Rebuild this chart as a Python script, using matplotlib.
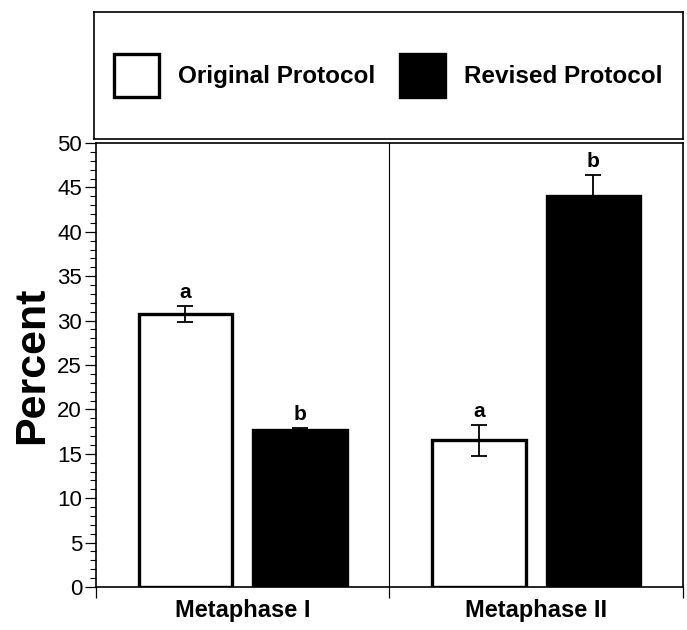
import numpy as np
import matplotlib
matplotlib.use("Agg")
import matplotlib.pyplot as plt
from matplotlib.ticker import MultipleLocator, FixedLocator

plt.rcParams['font.family'] = ['Liberation Sans', 'DejaVu Sans']

groups = ['Metaphase I', 'Metaphase II']
series = ['Original Protocol', 'Revised Protocol']
original = [30.7, 16.5]
original_err = [0.9, 1.7]
revised = [17.7, 44.0]
revised_err = [0.2, 2.4]
original_letters = ['a', 'a']
revised_letters = ['b', 'b']

fig = plt.figure(figsize=(6.87, 6.30), dpi=100)
ax = fig.add_axes([0.1397, 0.0683, 0.8545, 0.7047])

centers = np.arange(len(groups)) + 0.5
off = 0.195
w = 0.32
eb = dict(ecolor='black', elinewidth=1.3, capsize=6, capthick=1.3)

b1 = ax.bar(centers - off, original, w, yerr=original_err, color='white',
            edgecolor='black', linewidth=2.4, label=series[0], error_kw=eb, zorder=2)
b2 = ax.bar(centers + off, revised, w, yerr=revised_err, color='black',
            edgecolor='black', linewidth=2.4, label=series[1], error_kw=eb, zorder=2)

for x, v, e, t in zip(centers - off, original, original_err, original_letters):
    ax.annotate(t, (x, v + e), xytext=(0, 3), textcoords='offset points',
                ha='center', va='bottom', fontsize=15, fontweight='bold')
for x, v, e, t in zip(centers + off, revised, revised_err, revised_letters):
    ax.annotate(t, (x, v + e), xytext=(0, 3), textcoords='offset points',
                ha='center', va='bottom', fontsize=15, fontweight='bold')

# group divider
ax.axvline(1, color='black', linewidth=0.8, zorder=1)

ax.set_xlim(0, 2)
ax.set_ylim(0, 50)
ax.yaxis.set_major_locator(MultipleLocator(5))
ax.yaxis.set_minor_locator(MultipleLocator(1))
ax.tick_params(axis='y', which='major', direction='out', length=8, width=0.9,
               labelsize=16, pad=2)
ax.tick_params(axis='y', which='minor', direction='out', length=4.5, width=0.8)

ax.xaxis.set_major_locator(FixedLocator([0, 1, 2]))
ax.set_xticklabels(['', '', ''])
ax.xaxis.set_minor_locator(FixedLocator(centers))
ax.set_xticklabels(groups, minor=True)
ax.tick_params(axis='x', which='major', direction='out', length=8, width=0.9)
ax.tick_params(axis='x', which='minor', length=0, labelsize=17, pad=9)
for lab in ax.get_xticklabels(minor=True):
    lab.set_fontweight('bold')

for s in ax.spines.values():
    s.set_linewidth(1.2)

ax.set_ylabel('Percent', fontsize=31, fontweight='bold', labelpad=4)

# legend box
lax = fig.add_axes([0.137, 0.7794, 0.857, 0.2016])
lax.set_xticks([])
lax.set_yticks([])
for s in lax.spines.values():
    s.set_linewidth(1.2)
lax.legend(handles=[b1, b2], labels=series, loc='center', ncol=2, frameon=False,
           prop={'size': 17.5, 'weight': 'bold'}, handlelength=1.85, handleheight=2.4,
           handletextpad=0.8, columnspacing=1.0)

fig.savefig('out.png', dpi=100)
